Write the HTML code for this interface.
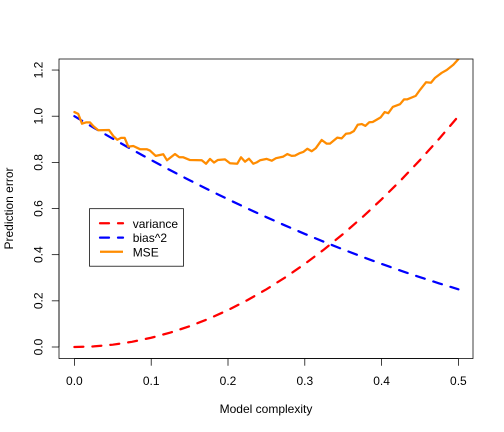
<!DOCTYPE html>
<html>
<head>
<meta charset="utf-8">
<style>
html,body{margin:0;padding:0;background:#fff;}
svg{display:block;}
text{font-family:"Liberation Sans",Arial,sans-serif;font-size:12px;fill:#000;}
</style>
</head>
<body>
<svg id="chart" width="504" height="432" viewBox="0 0 504 432" xmlns="http://www.w3.org/2000/svg">
  <rect x="0" y="0" width="504" height="432" fill="#fff"/>
  <defs><clipPath id="plot-clip"><rect x="59" y="59" width="414" height="300"/></clipPath></defs>
  <g id="series" clip-path="url(#plot-clip)"></g>
  <rect x="59" y="59" width="414" height="299.5" fill="none" stroke="#000" stroke-width="0.75"/>
  <g id="axes"></g>
  <text x="266" y="413" text-anchor="middle">Model complexity</text>
  <text transform="translate(13,208.5) rotate(-90)" text-anchor="middle">Prediction error</text>
  <g>
    <rect x="89.5" y="208.7" width="94" height="57.5" fill="#fff" stroke="#000" stroke-width="0.75"/>
    <line x1="100" y1="223.3" x2="123" y2="223.3" stroke="#ff0000" stroke-width="2.25" stroke-dasharray="9 9" stroke-linecap="round"/>
    <text x="132.7" y="228">variance</text>
    <line x1="100" y1="237.6" x2="123" y2="237.6" stroke="#0000ff" stroke-width="2.25" stroke-dasharray="9 9" stroke-linecap="round"/>
    <text x="132.7" y="242">bias^2</text>
    <line x1="100" y1="251.8" x2="123" y2="251.8" stroke="#ff8c00" stroke-width="2.25"/>
    <text x="132.7" y="256.5">MSE</text>
  </g>
</svg>
<script>
const xTicks = ["0.0", "0.1", "0.2", "0.3", "0.4", "0.5"];
const yTicks = ["0.0", "0.2", "0.4", "0.6", "0.8", "1.0", "1.2"];
const curveComplexity = [0, 0.025, 0.05, 0.075, 0.1, 0.125, 0.15, 0.175, 0.2, 0.225, 0.25, 0.275, 0.3, 0.325, 0.35, 0.375, 0.4, 0.425, 0.45, 0.475, 0.5];
const varianceValues = [0, 0.0025, 0.01, 0.0225, 0.04, 0.0625, 0.09, 0.1225, 0.16, 0.2025, 0.25, 0.3025, 0.36, 0.4225, 0.49, 0.5625, 0.64, 0.7225, 0.81, 0.9025, 1];
const biasValues = [1, 0.9506, 0.9025, 0.8556, 0.81, 0.7656, 0.7225, 0.6806, 0.64, 0.6006, 0.5625, 0.5256, 0.49, 0.4556, 0.4225, 0.3906, 0.36, 0.3306, 0.3025, 0.2756, 0.25];
const mseComplexity = [0, 0.005, 0.0099, 0.015, 0.0203, 0.025, 0.0311, 0.0451, 0.0507, 0.0559, 0.0607, 0.0655, 0.0702, 0.0767, 0.0854, 0.0941, 0.0984, 0.1059, 0.1158, 0.1206, 0.131, 0.1366, 0.1418, 0.1505, 0.1658, 0.1714, 0.1766, 0.1818, 0.1866, 0.1961, 0.2026, 0.2121, 0.2169, 0.2221, 0.2273, 0.2329, 0.2374, 0.2417, 0.2504, 0.2569, 0.2625, 0.272, 0.2772, 0.2829, 0.2872, 0.2928, 0.298, 0.3033, 0.309, 0.3142, 0.322, 0.3285, 0.3328, 0.3423, 0.348, 0.3536, 0.3589, 0.364, 0.3689, 0.3741, 0.3788, 0.384, 0.3884, 0.3988, 0.404, 0.4087, 0.4145, 0.424, 0.4292, 0.4335, 0.4444, 0.45, 0.4578, 0.4643, 0.4695, 0.4783, 0.4848, 0.4934, 0.4999];
const mseValues = [1.018, 1.01, 0.9675, 0.973, 0.973, 0.956, 0.939, 0.94, 0.914, 0.898, 0.906, 0.906, 0.868, 0.871, 0.857, 0.857, 0.851, 0.828, 0.835, 0.809, 0.836, 0.822, 0.822, 0.81, 0.809, 0.794, 0.815, 0.799, 0.81, 0.813, 0.796, 0.794, 0.822, 0.803, 0.816, 0.794, 0.8, 0.809, 0.815, 0.807, 0.818, 0.825, 0.836, 0.828, 0.829, 0.839, 0.845, 0.859, 0.848, 0.861, 0.897, 0.881, 0.881, 0.907, 0.904, 0.924, 0.926, 0.936, 0.963, 0.966, 0.958, 0.974, 0.975, 0.995, 1.018, 1.013, 1.04, 1.052, 1.073, 1.073, 1.088, 1.114, 1.147, 1.145, 1.166, 1.188, 1.2, 1.223, 1.247];

function xScale(v) { return 74.4 + (v - 0) / 0.5 * 384; }
function yScale(v) { return 347 - v * 230.8; }

const NS = "http://www.w3.org/2000/svg";
const seriesGroup = document.getElementById("series");
const axesGroup = document.getElementById("axes");

function linePath(xs, ys) {
  return xs.map((x, i) => (i ? "L" : "M") + xScale(x).toFixed(2) + " " + yScale(ys[i]).toFixed(2)).join(" ");
}

const variancePath = document.createElementNS(NS, "path");


variancePath.setAttribute("d", linePath(curveComplexity, varianceValues));
variancePath.setAttribute("fill", "none");
variancePath.setAttribute("stroke", "#ff0000");
variancePath.setAttribute("stroke-width", "2.25");
variancePath.setAttribute("stroke-dasharray", "9 9");
variancePath.setAttribute("stroke-linecap", "round");
seriesGroup.appendChild(variancePath);

const biasPath = document.createElementNS(NS, "path");


biasPath.setAttribute("d", linePath(curveComplexity, biasValues));
biasPath.setAttribute("fill", "none");
biasPath.setAttribute("stroke", "#0000ff");
biasPath.setAttribute("stroke-width", "2.25");
biasPath.setAttribute("stroke-dasharray", "9 9");
biasPath.setAttribute("stroke-linecap", "round");
seriesGroup.appendChild(biasPath);

const msePath = document.createElementNS(NS, "path");


msePath.setAttribute("d", linePath(mseComplexity, mseValues));
msePath.setAttribute("fill", "none");
msePath.setAttribute("stroke", "#ff8c00");
msePath.setAttribute("stroke-width", "2.25");
msePath.setAttribute("stroke-linejoin", "round");
msePath.setAttribute("stroke-linecap", "round");
seriesGroup.appendChild(msePath);

function addLine(x1, y1, x2, y2, name) {
  const l = document.createElementNS(NS, "line");
  
  
  l.setAttribute("x1", x1);
  l.setAttribute("y1", y1);
  l.setAttribute("x2", x2);
  l.setAttribute("y2", y2);
  l.setAttribute("stroke", "#000");
  l.setAttribute("stroke-width", "0.75");
  axesGroup.appendChild(l);
}

addLine(xScale(+xTicks[0]), 358.5, xScale(+xTicks[xTicks.length - 1]), 358.5, "x-axis-line");
addLine(59, yScale(+yTicks[0]), 59, yScale(+yTicks[yTicks.length - 1]), "y-axis-line");

xTicks.forEach(function (t) {
  const px = xScale(+t);
  addLine(px, 358.5, px, 365.7, "x-tick");
  const label = document.createElementNS(NS, "text");
  
  
  label.setAttribute("x", px);
  label.setAttribute("y", 385);
  label.setAttribute("text-anchor", "middle");
  label.textContent = t;
  axesGroup.appendChild(label);
});

yTicks.forEach(function (t) {
  const py = yScale(+t);
  addLine(51.8, py, 59, py, "y-tick");
  const label = document.createElementNS(NS, "text");
  
  
  label.setAttribute("transform", "translate(42.5," + py + ") rotate(-90)");
  label.setAttribute("text-anchor", "middle");
  label.textContent = t;
  axesGroup.appendChild(label);
});
</script>
</body>
</html>
